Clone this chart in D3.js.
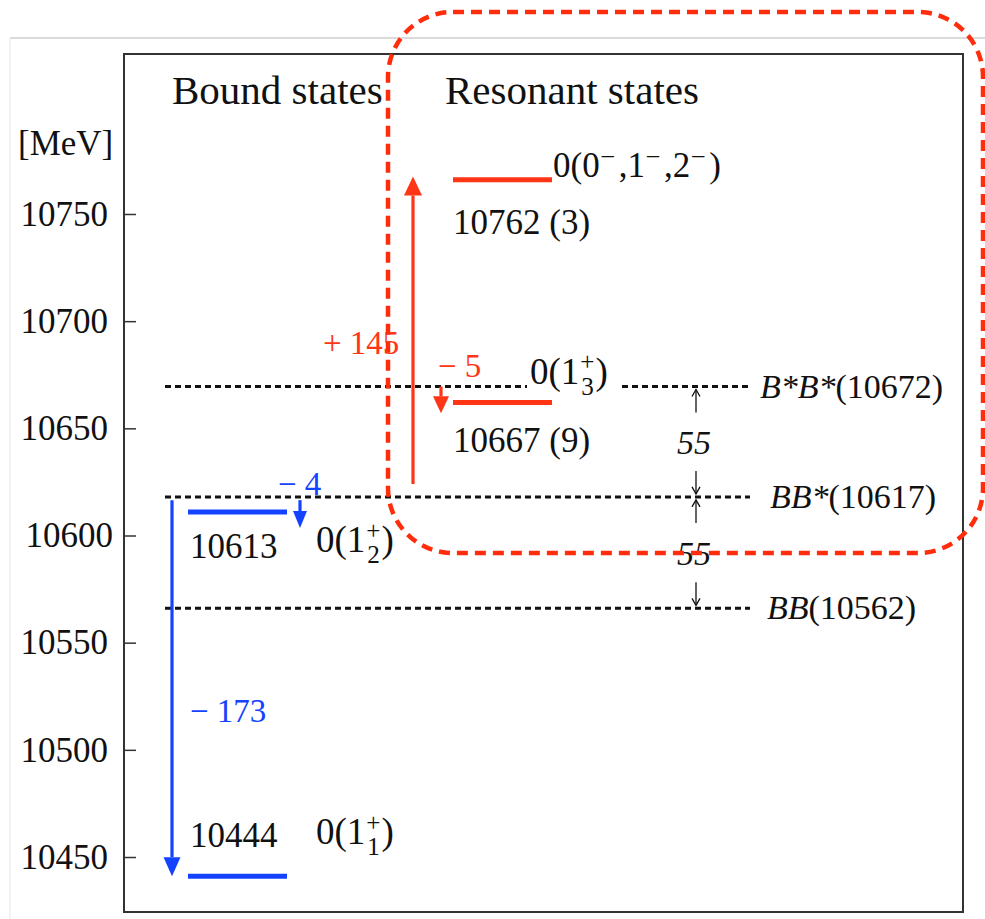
<!DOCTYPE html>
<html>
<head>
<meta charset="utf-8">
<script src="https://cdn.jsdelivr.net/npm/d3@7"></script>
<style>
  html, body { margin: 0; padding: 0; background: #fff; }
  svg { display: block; }
  text { font-family: "Liberation Serif", "Times New Roman", serif; }
</style>
</head>
<body>
<div id="wrapper"></div>
<script>
// tick values on the mass axis
const tickValues = [10750, 10700, 10650, 10600, 10550, 10500, 10450];

// thresholds (levels are where the lines sit in the picture)
const thresholdNames = ["B*B*", "BB*", "BB"];
const thresholdMass = ["10672", "10617", "10562"];
const thresholdLevel = [10669.5, 10618, 10566];

// bound states
const boundLevel = [10611, 10441];
const boundLabel = ["10613", "10444"];
const boundSub = ["2", "1"];

// resonant states
const resonantLevel = [10766, 10662];
const resonantLabel = ["10762 (3)", "10667 (9)"];

// shifts measured from the thresholds
const shiftText = ["\u2212 173", "\u2212 4", "+ 145", "\u2212 5"];
const shiftStart = [10616.5, 10616.5, 10624, 10669.5];
const shiftEnd = [10441, 10603.5, 10767.5, 10657];
const shiftColor = ["blue", "blue", "red", "red"];

// gap between neighbouring thresholds
const gapText = ["55", "55"];

const colors = { blue: "#1443ff", red: "#ff3516", dash: "#ff2d0c", ink: "#111" };

let dimensions = {
  width: 985,
  height: 919,
  frame: { left: 124, top: 54, right: 963, bottom: 912 },
};

const svg = d3.select("#wrapper").append("svg")
  .attr("width", dimensions.width)
  .attr("height", dimensions.height);

// page edge from the screenshot
svg.append("line").attr("x1", 10).attr("x2", 985).attr("y1", 38).attr("y2", 38)
  .attr("stroke", "#cfcfcf").attr("stroke-width", 1.5);
svg.append("line").attr("x1", 10).attr("x2", 10).attr("y1", 38).attr("y2", 919)
  .attr("stroke", "#eeeeee").attr("stroke-width", 1.5);

const yScale = d3.scaleLinear()
  .domain([10750, 10450])
  .range([214, 857]);

const f = dimensions.frame;

svg.append("rect")
  .attr("x", f.left).attr("y", f.top)
  .attr("width", f.right - f.left).attr("height", f.bottom - f.top)
  .attr("fill", "none").attr("stroke", "#333").attr("stroke-width", 2);

// axis: ticks point inward
const yAxisGenerator = d3.axisLeft(yScale)
  .tickValues(tickValues)
  .tickSizeInner(-12)
  .tickSizeOuter(0)
  .tickPadding(16)
  .tickFormat(d3.format("d"));

const yAxis = svg.append("g")
  .attr("transform", `translate(${f.left},0)`)
  .call(yAxisGenerator);
yAxis.select(".domain").remove();
yAxis.attr("font-family", null).attr("font-size", null);
yAxis.selectAll("line").attr("stroke", "#333").attr("stroke-width", 1.5);
yAxis.selectAll("text")
  .attr("font-size", 35).attr("fill", colors.ink)
  .attr("dx", d => d === 10600 ? 5 : 0);

svg.append("text").attr("x", 18).attr("y", 155).attr("font-size", 35)
  .attr("fill", colors.ink).text("[MeV]");

svg.append("text").attr("x", 172).attr("y", 104).attr("font-size", 41)
  .attr("fill", colors.ink).text("Bound states");
svg.append("text").attr("x", 445).attr("y", 104).attr("font-size", 41)
  .attr("fill", colors.ink).text("Resonant states");

// threshold lines
const thrSegments = [[[165, 527], [622, 750]], [[165, 750]], [[165, 750]]];
const thrLabelX = [760, 770, 767];

thresholdLevel.forEach((lv, i) => {
  const y = yScale(lv);
  thrSegments[i].forEach(s => {
    svg.append("line")
      .attr("x1", s[0]).attr("x2", s[1]).attr("y1", y).attr("y2", y)
      .attr("stroke", colors.ink).attr("stroke-width", 3)
      .attr("stroke-dasharray", "6,4");
  });
  const t = svg.append("text").attr("x", thrLabelX[i]).attr("y", y + 11)
    .attr("font-size", 34).attr("fill", colors.ink);
  t.append("tspan").attr("font-style", "italic").text(thresholdNames[i]);
  t.append("tspan").text(`(${thresholdMass[i]})`);
});

// arrows
function arrow(x, y1, y2, color, width, headW, headL) {
  const dir = y2 > y1 ? 1 : -1;
  const base = y2 - dir * headL;
  svg.append("line").attr("x1", x).attr("x2", x).attr("y1", y1).attr("y2", base)
    .attr("stroke", color).attr("stroke-width", width);
  svg.append("path")
    .attr("d", `M${x - headW / 2},${base}L${x + headW / 2},${base}L${x},${y2}Z`)
    .attr("fill", color);
}

function thinArrow(x, y1, y2) {
  const dir = y2 > y1 ? 1 : -1;
  svg.append("line").attr("x1", x).attr("x2", x).attr("y1", y1).attr("y2", y2)
    .attr("stroke", colors.ink).attr("stroke-width", 1.3);
  svg.append("path")
    .attr("d", `M${x - 4},${y2 - dir * 7}L${x},${y2}L${x + 4},${y2 - dir * 7}`)
    .attr("fill", "none").attr("stroke", colors.ink).attr("stroke-width", 1.3);
}

const shiftX = [172, 300, 413, 441];
const shiftHead = [[17, 19], [14, 17], [18, 19], [16, 17]];
const shiftLabelPos = [[190, 722], [278, 495], [323, 354], [438, 377]];

shiftText.forEach((s, i) => {
  const c = colors[shiftColor[i]];
  arrow(shiftX[i], yScale(shiftStart[i]), yScale(shiftEnd[i]), c, 3.2,
    shiftHead[i][0], shiftHead[i][1]);
  svg.append("text").attr("x", shiftLabelPos[i][0]).attr("y", shiftLabelPos[i][1])
    .attr("font-size", 33).attr("fill", c).text(s);
});

// level bars
svg.selectAll(".bound-bar").data(boundLevel).join("line")
  .attr("class", "bound-bar")
  .attr("x1", 188).attr("x2", 287)
  .attr("y1", d => yScale(d)).attr("y2", d => yScale(d))
  .attr("stroke", colors.blue).attr("stroke-width", 5);

svg.selectAll(".res-bar").data(resonantLevel).join("line")
  .attr("class", "res-bar")
  .attr("x1", 453).attr("x2", 552)
  .attr("y1", d => yScale(d)).attr("y2", d => yScale(d))
  .attr("stroke", colors.red).attr("stroke-width", 5);

// level labels
const boundDy = [46, -29];
svg.selectAll(".bound-lab").data(boundLevel).join("text")
  .attr("class", "bound-lab")
  .attr("x", 190).attr("y", (d, i) => yScale(d) + boundDy[i])
  .attr("font-size", 35).attr("fill", colors.ink)
  .text((d, i) => boundLabel[i]);

const resDy = [54, 49];
svg.selectAll(".res-lab").data(resonantLevel).join("text")
  .attr("class", "res-lab")
  .attr("x", 453).attr("y", (d, i) => yScale(d) + resDy[i])
  .attr("font-size", 35).attr("fill", colors.ink)
  .text((d, i) => resonantLabel[i]);

// 0(1^+_n) labels with stacked scripts
function stackedLabel(x, y, fs, sub) {
  const t0 = svg.append("text").attr("x", x).attr("y", y)
    .attr("font-size", fs).attr("fill", colors.ink).text("0(1");
  const w0 = t0.node().getComputedTextLength();
  const ss = fs * 0.68;
  const sp = svg.append("text").attr("x", x + w0 + 1).attr("y", y - fs * 0.36)
    .attr("font-size", ss).attr("fill", colors.ink).text("+");
  const sb = svg.append("text").attr("x", x + w0 + 2).attr("y", y + fs * 0.3)
    .attr("font-size", ss).attr("fill", colors.ink).text(sub);
  const w1 = Math.max(sp.node().getComputedTextLength(), sb.node().getComputedTextLength());
  svg.append("text").attr("x", x + w0 + w1 + 2).attr("y", y)
    .attr("font-size", fs).attr("fill", colors.ink).text(")");
}

const boundJpDy = [40, -32];
boundLevel.forEach((lv, i) => stackedLabel(316, yScale(lv) + boundJpDy[i], 37, boundSub[i]));
stackedLabel(530, yScale(resonantLevel[1]) - 19, 37, "3");

// 0(0^-,1^-,2^-)
const jp = svg.append("text").attr("x", 553).attr("y", yScale(resonantLevel[0]) - 3)
  .attr("font-size", 35).attr("fill", colors.ink);
["0(0", "-", ",1", "-", ",2", "-", ")"].forEach(p => {
  if (p === "-") {
    jp.append("tspan").attr("font-size", 24).attr("dx", 2).attr("dy", -15).text("\u2013");
  } else if (p === "0(0") {
    jp.append("tspan").text(p);
  } else {
    jp.append("tspan").attr("dx", 5).attr("dy", 15).text(p);
  }
});

// 55 MeV gaps between thresholds
const gapX = 696;
gapText.forEach((g, i) => {
  const yU = yScale(thresholdLevel[i]);
  const yL = yScale(thresholdLevel[i + 1]);
  thinArrow(gapX, yU + 26, yU + 3);
  thinArrow(gapX, yL - 26, yL - 3);
  svg.append("text").attr("x", gapX - 2).attr("y", (yU + yL) / 2 + 12)
    .attr("text-anchor", "middle").attr("font-size", 34).attr("font-style", "italic")
    .attr("fill", colors.ink).text(g);
});

// red dashed highlight box
svg.append("rect")
  .attr("x", 388).attr("y", 12).attr("width", 595).attr("height", 541)
  .attr("rx", 65).attr("ry", 65)
  .attr("fill", "none").attr("stroke", colors.dash).attr("stroke-width", 4.5)
  .attr("stroke-dasharray", "11,7");
</script>
</body>
</html>
